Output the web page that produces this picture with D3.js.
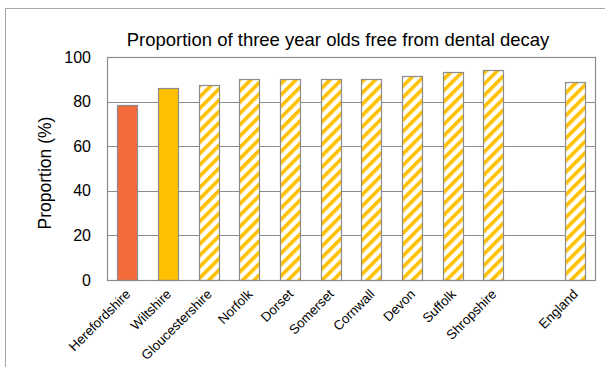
<!DOCTYPE html>
<html><head><meta charset="utf-8">
<script src="https://cdn.jsdelivr.net/npm/d3@7"></script>
<style>body{margin:0;background:#fff}svg{display:block;font-family:"Liberation Sans",Arial,sans-serif}</style>
</head><body>
<svg id="c" width="605" height="367"></svg>
<script>
const categories = ["Herefordshire","Wiltshire","Gloucestershire","Norfolk","Dorset","Somerset","Cornwall","Devon","Suffolk","Shropshire","","England"];
const values = [78.5, 86.3, 87.4, 90.3, 90.3, 90.3, 90.3, 91.5, 93.3, 94.3, null, 88.6];
const fills = ["solidRed","solidYellow","hatch","hatch","hatch","hatch","hatch","hatch","hatch","hatch","none","hatch"];
const yTicks = [0, 20, 40, 60, 80, 100];
const title = "Proportion of three year olds free from dental decay";
const yTitle = "Proportion (%)";

const svg = d3.select("#c");
const m = {l:107, t:57, r:595, b:280};

const defs = svg.append("defs");
const pat = defs.append("pattern").attr("id","hatch").attr("patternUnits","userSpaceOnUse")
  .attr("width",8).attr("height",8).attr("patternTransform","rotate(45)");
pat.append("rect").attr("width",8).attr("height",8).attr("fill","#fff");
pat.append("rect").attr("width",3.6).attr("height",8).attr("fill","#FFC000");

// outer frame
svg.append("path").attr("d","M5.5,367 V8.5 H605").attr("fill","none").attr("stroke","#a6a6a6").attr("stroke-width",1);

const x = d3.scaleBand().domain(categories.map((c,i)=>i)).range([m.l,m.r]).paddingInner(0.5).paddingOuter(0.25);
const y = d3.scaleLinear().domain([0,100]).range([m.b,m.t]);

// gridlines
svg.append("g").selectAll("line").data(yTicks.slice(1,-1)).join("line")
  .attr("x1",m.l).attr("x2",m.r).attr("y1",d=>Math.round(y(d))+0.5).attr("y2",d=>Math.round(y(d))+0.5)
  .attr("stroke","#8c8c8c").attr("stroke-width",1);

// bars
const colorMap = {solidRed:"#F36B3B", solidYellow:"#FFC000", hatch:"url(#hatch)"};
svg.append("g").selectAll("rect").data(values.map((v,i)=>({v,i})).filter(d=>d.v!=null)).join("rect")
  .attr("x",d=>Math.round(x(d.i))+0.5).attr("width",Math.round(x.bandwidth()))
  .attr("y",d=>Math.round(y(d.v))+0.5).attr("height",d=>Math.round(y(0))-Math.round(y(d.v)))
  .attr("fill",d=>colorMap[fills[d.i]]).attr("stroke","#8c8c8c").attr("stroke-width",1.2);

// plot border
svg.append("rect").attr("x",m.l+0.5).attr("y",m.t+0.5).attr("width",m.r-m.l).attr("height",m.b-m.t)
  .attr("fill","none").attr("stroke","#8c8c8c").attr("stroke-width",1.2);

// y axis
const yAxis = d3.axisLeft(y).tickValues(yTicks).tickSize(0).tickPadding(16);
const ga = svg.append("g").attr("transform",`translate(${m.l},0)`).call(yAxis);
ga.select(".domain").remove();
ga.selectAll("text").attr("font-size",16).attr("fill","#000").attr("font-family","Liberation Sans, Arial, sans-serif");

// x labels
svg.append("g").selectAll("text").data(categories.map((c,i)=>({c,i})).filter(d=>d.c)).join("text")
  .attr("transform",d=>`translate(${x(d.i)+x.bandwidth()/2+4},${m.b+15}) rotate(-45)`)
  .attr("text-anchor","end").attr("font-size",13.3).attr("fill","#000").text(d=>d.c);

// title
svg.append("text").attr("x",338).attr("y",46).attr("text-anchor","middle").attr("font-size",18.5).attr("fill","#000").text(title);
// y title
svg.append("text").attr("transform","translate(51,173) rotate(-90)").attr("text-anchor","middle").attr("font-size",17.5).attr("fill","#000").text(yTitle);
</script>
</body></html>
